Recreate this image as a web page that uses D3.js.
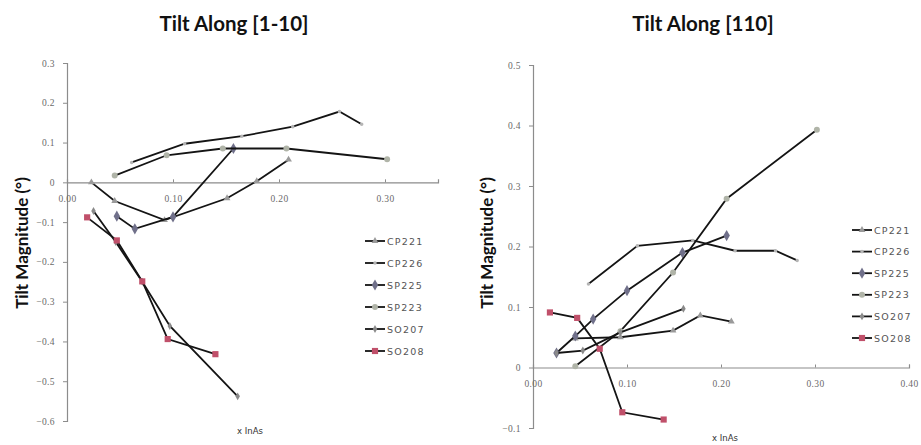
<!DOCTYPE html>
<html>
<head>
<meta charset="utf-8">
<script src="https://cdn.jsdelivr.net/npm/d3@7/dist/d3.min.js"></script>
<style>
  body { margin: 0; background: #fff; }
  svg { display: block; }
</style>
</head>
<body>
<svg id="chart"></svg>
<script>
// series names + legend order
const seriesNames = ['CP221', 'CP226', 'SP225', 'SP223', 'SO207', 'SO208'];

// left panel, tilt along [1-10]  ([x InAs, tilt])
const left_CP221 = [[0.023, 0.0], [0.045, -0.047], [0.092, -0.095], [0.151, -0.04], [0.179, 0.003], [0.209, 0.057]];
const left_CP226 = [[0.061, 0.05], [0.111, 0.097], [0.165, 0.116], [0.213, 0.14], [0.257, 0.178], [0.278, 0.146]];
const left_SP225 = [[0.047, -0.085], [0.064, -0.117], [0.10, -0.087], [0.157, 0.085]];
const left_SP223 = [[0.045, 0.017], [0.094, 0.068], [0.147, 0.085], [0.207, 0.085], [0.302, 0.058]];
const left_SO207 = [[0.025, -0.072], [0.046, -0.15], [0.071, -0.25], [0.097, -0.361], [0.161, -0.538]];
const left_SO208 = [[0.019, -0.088], [0.047, -0.146], [0.071, -0.249], [0.095, -0.394], [0.14, -0.432]];

// right panel, tilt along [110]
const right_CP221 = [[0.045, 0.048], [0.093, 0.05], [0.149, 0.061], [0.178, 0.086], [0.211, 0.076]];
const right_CP226 = [[0.059, 0.138], [0.111, 0.201], [0.170, 0.21], [0.215, 0.193], [0.258, 0.193], [0.281, 0.177]];
const right_SP225 = [[0.025, 0.024], [0.045, 0.052], [0.064, 0.08], [0.10, 0.127], [0.159, 0.19], [0.206, 0.218]];
const right_SP223 = [[0.045, 0.002], [0.093, 0.06], [0.149, 0.157], [0.206, 0.279], [0.302, 0.393]];
const right_SO207 = [[0.025, 0.024], [0.053, 0.028], [0.093, 0.058], [0.16, 0.097]];
const right_SO208 = [[0.018, 0.091], [0.047, 0.082], [0.071, 0.031], [0.095, -0.074], [0.139, -0.086]];

// ticks
const leftYTicks = [0.3, 0.2, 0.1, 0, -0.1, -0.2, -0.3, -0.4, -0.5, -0.6];
const leftXTicks = [0, 0.1, 0.2, 0.3];
const rightYTicks = [0.5, 0.4, 0.3, 0.2, 0.1, 0, -0.1];
const rightXTicks = [0, 0.1, 0.2, 0.3, 0.4];

const width = 921, height = 445;
const svg = d3.select('#chart').attr('width', width).attr('height', height);

// marker look per series
const markerStyle = {
  CP221: { type: d3.symbolTriangle, size: 20, fill: '#9a9a9a' },
  CP226: { type: d3.symbolCircle, size: 10, fill: '#b5b5b5' },
  SP225: { type: d3.symbolDiamond, size: 36, fill: '#70708a' },
  SP223: { type: d3.symbolCircle, size: 28, fill: '#b0b4a8' },
  SO207: { type: d3.symbolDiamond, size: 18, fill: '#8a8a8a' },
  SO208: { type: d3.symbolSquare, size: 38, fill: '#c0506a' }
};

function drawPanel(opt) {
  const x = d3.scaleLinear().domain(opt.xDomain).range(opt.xRange);
  const y = d3.scaleLinear().domain(opt.yDomain).range(opt.yRange);
  const g = svg.append('g');

  // title
  g.append('text')
    .attr('x', opt.titleX).attr('y', 31)
    .attr('text-anchor', 'middle')
    .style('font-family', 'Lato, "Open Sans", sans-serif')
    .style('font-weight', 'bold')
    .style('font-size', '20.5px')
    .style('fill', '#111')
    .text(opt.title);

  // y axis
  const yAxis = d3.axisLeft(y).tickValues(opt.yTicks).tickSize(4).tickPadding(8)
    .tickFormat(d => d === 0 ? '0' : d3.format('.1f')(d));
  const yg = g.append('g').attr('transform', `translate(${opt.xRange[0]},0)`).call(yAxis);

  // x axis sits at y = 0
  const xAxis = d3.axisBottom(x).tickValues(opt.xTicks).tickSize(-3).tickPadding(13)
    .tickFormat(d3.format('.2f'));
  const xg = g.append('g').attr('transform', `translate(0,${y(0)})`).call(xAxis);

  [yg, xg].forEach(a => {
    a.select('.domain').attr('stroke', '#8c8c8c').attr('stroke-width', 1.2);
    a.selectAll('.tick line').attr('stroke', '#8c8c8c');
    a.selectAll('.tick text')
      .style('font-family', '"Liberation Serif", serif')
      .style('font-size', '9.5px')
      .style('letter-spacing', '0.4px')
      .style('fill', '#6a6a6a');
  });
  xg.selectAll('.tick').filter(d => d === 0).select('line').remove();

  // y title
  g.append('text')
    .attr('transform', `translate(${opt.yTitleX},243) rotate(-90)`)
    .attr('text-anchor', 'middle')
    .style('font-family', 'Lato, "Open Sans", sans-serif')
    .style('font-weight', 'bold')
    .style('font-size', '17px')
    .style('fill', '#111')
    .text('Tilt Magnitude (°)');

  // x title
  g.append('text')
    .attr('x', opt.xTitleX).attr('y', opt.xTitleY)
    .attr('text-anchor', 'middle')
    .style('font-family', '"DejaVu Sans", sans-serif')
    .style('font-size', '8.5px')
    .style('fill', '#333')
    .text('x InAs');

  const line = d3.line().x(d => x(d[0])).y(d => y(d[1]));

  seriesNames.forEach((name, i) => {
    const data = opt.series[i];
    const ms = markerStyle[name];
    g.append('path')
      .datum(data)
      .attr('d', line)
      .attr('fill', 'none')
      .attr('stroke', '#141414')
      .attr('stroke-width', 1.8);
    g.selectAll(null)
      .data(data)
      .enter()
      .append('path')
      .attr('d', d3.symbol().type(ms.type).size(ms.size))
      .attr('transform', d => `translate(${x(d[0])},${y(d[1])})`)
      .attr('fill', ms.fill);
  });

  // legend
  const lg = g.append('g').attr('transform', `translate(${opt.legendX},${opt.legendY})`);
  seriesNames.forEach((name, i) => {
    const ms = markerStyle[name];
    const row = lg.append('g').attr('transform', `translate(0,${i * opt.legendStep})`);
    row.append('line').attr('x1', 0).attr('x2', 20).attr('y1', 0).attr('y2', 0)
      .attr('stroke', '#141414').attr('stroke-width', 1.8);
    row.append('path')
      .attr('d', d3.symbol().type(ms.type).size(ms.size))
      .attr('transform', 'translate(10,0)')
      .attr('fill', ms.fill);
    row.append('text')
      .attr('x', 22).attr('y', 3.5)
      .style('font-family', '"DejaVu Sans", sans-serif')
      .style('font-size', '9.5px')
      .style('letter-spacing', '1.2px')
      .style('fill', '#555')
      .text(name);
  });
}

drawPanel({
  title: 'Tilt Along [1-10]', titleX: 234,
  xDomain: [0, 0.35], xRange: [67, 438],
  yDomain: [-0.6, 0.3], yRange: [421, 63],
  xTicks: leftXTicks, yTicks: leftYTicks,
  yTitleX: 28, xTitleX: 250, xTitleY: 434,
  legendX: 365, legendY: 241, legendStep: 22,
  series: [left_CP221, left_CP226, left_SP225, left_SP223, left_SO207, left_SO208]
});

drawPanel({
  title: 'Tilt Along [110]', titleX: 703,
  xDomain: [0, 0.4], xRange: [533, 909],
  yDomain: [-0.1, 0.5], yRange: [428, 65],
  xTicks: rightXTicks, yTicks: rightYTicks,
  yTitleX: 493, xTitleX: 725, xTitleY: 441,
  legendX: 852, legendY: 230, legendStep: 21.6,
  series: [right_CP221, right_CP226, right_SP225, right_SP223, right_SO207, right_SO208]
});
</script>
</body>
</html>
